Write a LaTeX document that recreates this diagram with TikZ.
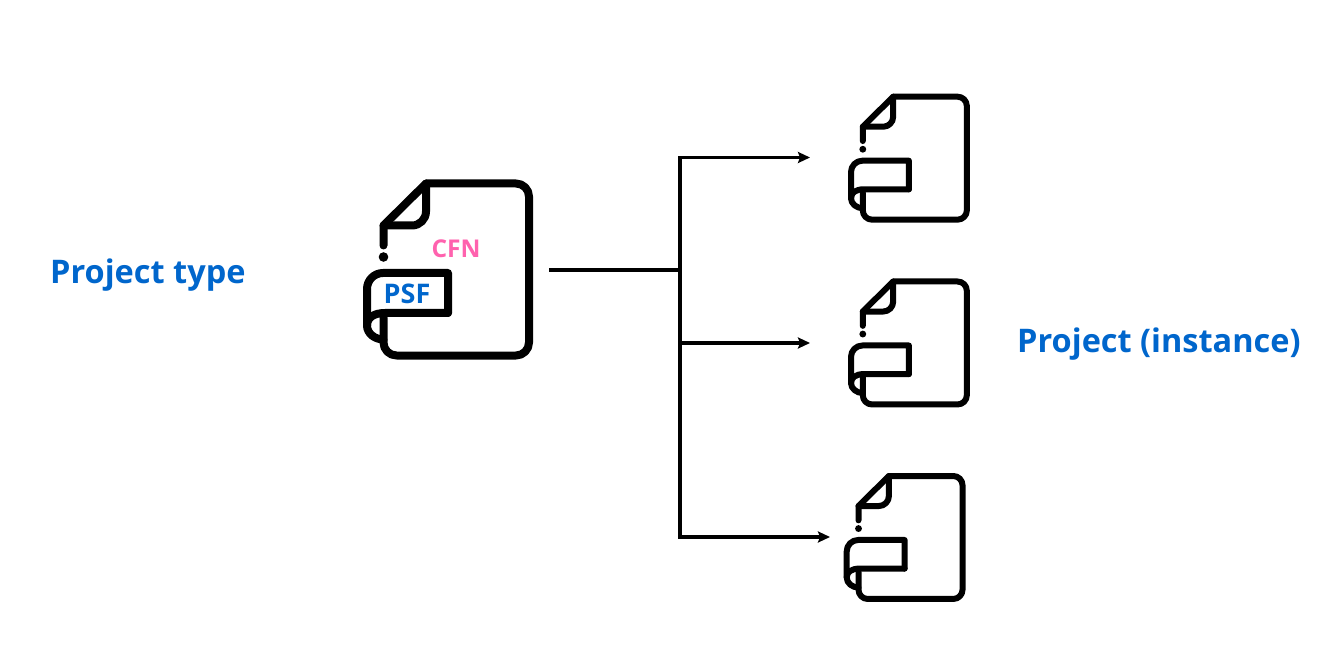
\documentclass[tikz,border=0pt]{standalone}
\usepackage{fontspec}
\setmainfont{Open Sans}
\usetikzlibrary{arrows.meta}
\definecolor{projblue}{HTML}{0066CC}
\definecolor{cfnpink}{HTML}{FF62AE}
\tikzset{
  x=1pt,y=-1pt,
  icon/.style={draw=black,line cap=round,line join=round,fill=none},
  wire/.style={draw=black,line width=3.4pt},
  arrowwire/.style={wire,-{Stealth[length=12pt,width=11pt,inset=2pt]}},
  title/.style={text=projblue,font=\bfseries\fontsize{32.5}{38}\selectfont,inner sep=0pt},
  tag/.style={font=\bfseries\fontsize{24.5}{28}\selectfont,inner sep=0pt},
  pics/docicon/.style={code={
    % origin = top-left of the big icon's bounding frame (367,183.5)
    \draw[icon] (16.5,62) -- (16.5,42) -- (59,0) -- (149,0)
      arc[start angle=-90,end angle=0,radius=13] -- (162,159)
      arc[start angle=0,end angle=90,radius=13] -- (29.5,172)
      arc[start angle=90,end angle=180,radius=13] -- (16.5,134);
    \draw[icon] (59,0) -- (59,28) arc[start angle=0,end angle=90,radius=14] -- (16.5,42);
    \fill (16.5,73.5) circle[radius=4.8];
    \draw[icon] (81,129.5) -- (81,89.5) -- (16,89.5)
      arc[start angle=-90,end angle=-180,radius=16] -- (0,142)
      .. controls (0,150) and (8,156) .. (16.5,156);
    \draw[icon] (81,129.5) -- (18,129.5) .. controls (7,129.5) and (0,134) .. (0,142);
  }}
}
\begin{document}
\begin{tikzpicture}
\useasboundingbox (0,0) rectangle (1336,660);
% icons
\pic[line width=8pt] at (367,183.5) {docicon};
\pic[line width=6pt,scale=.715] at (851,96.7) {docicon};
\pic[line width=6pt,scale=.715] at (851,281.5) {docicon};
\pic[line width=6pt,scale=.715] at (846.7,476) {docicon};
% labels
\node[title,anchor=west] (ptype) at (50,275.5) {Project type};
\node[title,anchor=west] (pinst) at (1017,344) {Project (instance)};
\node[tag,text=cfnpink] (cfn) at (456,248.5) {CFN};
\node[tag,text=projblue,font=\bfseries\fontsize{27}{30}\selectfont] (psf) at (407,294) {PSF};
% connectors
\coordinate (src) at (549,270);
\coordinate (hub) at (680,270);
\coordinate (j1) at (680,157.5);
\coordinate (j2) at (680,343);
\coordinate (j3) at (680,537);
\coordinate (t1) at (810,157.5);
\coordinate (t2) at (810,343);
\coordinate (t3) at (830,537);
\draw[wire] (src) -- (hub);
\draw[wire,line cap=rect] (j1) -- (j3);
\draw[arrowwire] (j1) -- (t1);
\draw[arrowwire] (j2) -- (t2);
\draw[arrowwire] (j3) -- (t3);
\end{tikzpicture}
\end{document}
